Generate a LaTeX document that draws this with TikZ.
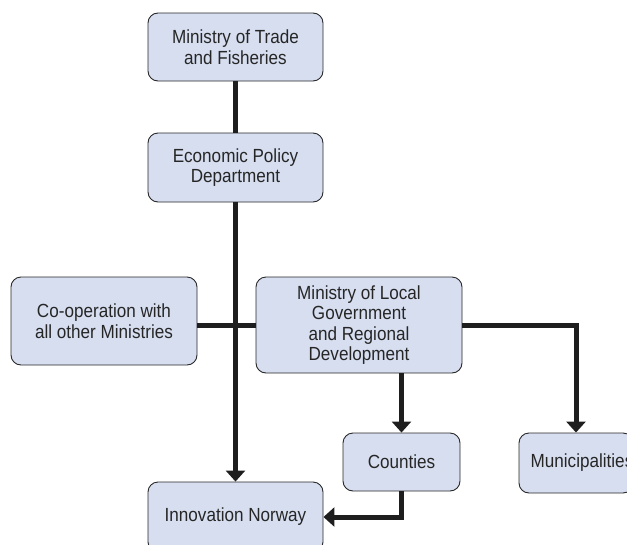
\documentclass[tikz,border=0pt]{standalone}
\usepackage{fontspec}
\setmainfont{Liberation Sans}[FakeStretch=0.9]
\usetikzlibrary{arrows.meta,positioning}
\definecolor{boxfill}{RGB}{214,222,240}
\definecolor{boxline}{RGB}{40,40,40}
\definecolor{linkcol}{RGB}{30,30,30}
\tikzset{
  orgbox/.style={draw=boxline, line width=0.9pt, fill=boxfill, rounded corners=10pt,
    align=center, inner sep=0pt, font=\fontsize{19}{20.6}\selectfont, text=black!85},
  link/.style={draw=linkcol, line width=5pt},
  arr/.style={link, -{Triangle[width=19pt,length=11pt]}},
}
\begin{document}
\begin{tikzpicture}[x=1pt,y=-1pt]
\useasboundingbox (0,0) rectangle (627,544);
\clip (0,0) rectangle (627,544);
\node[orgbox, minimum width=175pt, minimum height=68pt] (trade) at (235.5,47) {Ministry of Trade\\and Fisheries};
\node[orgbox, minimum width=175pt, minimum height=69pt] (econ) at (235.5,167.5) {Economic Policy\\Department};
\node[orgbox, minimum width=186pt, minimum height=88pt] (coop) at (104,321) {Co-operation with\\all other Ministries};
\node[orgbox, minimum width=206pt, minimum height=96pt] (local) at (359,325) {Ministry of Local\\Government\\and Regional\\Development};
\node[orgbox, minimum width=117pt, minimum height=58pt] (counties) at (401.5,462) {Counties};
\node[orgbox, minimum width=114pt, minimum height=60pt] (mun) at (576,463) {\hspace*{6pt}Municipalities\hspace*{-6pt}};
\node[orgbox, minimum width=175pt, minimum height=70pt] (inn) at (235.5,517) {Innovation Norway};
\draw[link] (trade.south) -- (econ.north);
\draw[link] (coop.east |- local.west) -- (local.west);
\draw[arr] (econ.south) -- (inn.north);
\draw[arr] (local.east) -| (mun.north);
\draw[arr] (counties.north |- local.south) -- (counties.north);
\draw[arr] (counties.south) |- (inn.east);
\end{tikzpicture}
\end{document}
